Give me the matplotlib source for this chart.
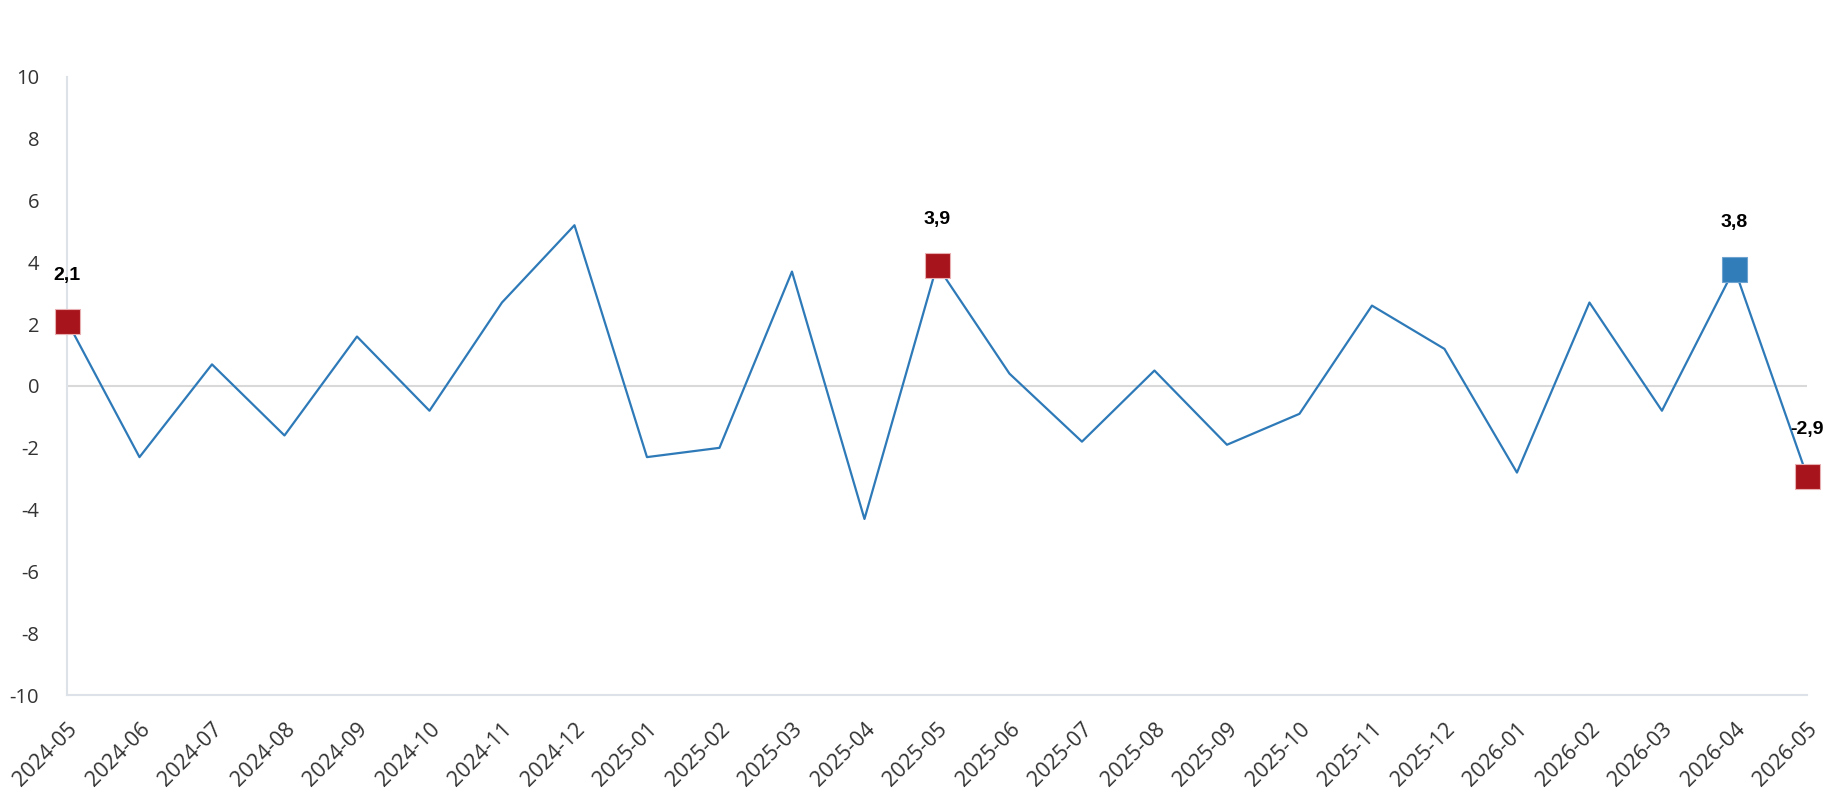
import matplotlib
matplotlib.use("Agg")
import matplotlib.pyplot as plt

# monthly values
months = ["2024-05", "2024-06", "2024-07", "2024-08", "2024-09", "2024-10",
          "2024-11", "2024-12", "2025-01", "2025-02", "2025-03", "2025-04",
          "2025-05", "2025-06", "2025-07", "2025-08", "2025-09", "2025-10",
          "2025-11", "2025-12", "2026-01", "2026-02", "2026-03", "2026-04",
          "2026-05"]
values = [2.1, -2.3, 0.7, -1.6, 1.6, -0.8, 2.7, 5.2, -2.3, -2.0, 3.7, -4.3,
          3.9, 0.4, -1.8, 0.5, -1.9, -0.9, 2.6, 1.2, -2.8, 2.7, -0.8, 3.8, -2.9]

# highlighted points (index into months) and their colours
marked = [0, 12, 23, 24]
marked_colors = ["#a8141b", "#a8141b", "#307dba", "#a8141b"]

yticks = [-10, -8, -6, -4, -2, 0, 2, 4, 6, 8, 10]

fig = plt.figure(figsize=(18.3, 8), dpi=100)
ax = fig.add_subplot(111)
fig.subplots_adjust(left=0.0366, right=0.9874, top=0.904, bottom=0.131)

x = list(range(len(months)))
ax.axhline(0, color="#d9d9d9", lw=1.5, zorder=1)
ax.plot(x, values, color="#2e7ab8", lw=1.6, zorder=2, clip_on=False)

for i, c in zip(marked, marked_colors):
    ax.plot(x[i], values[i], marker="s", ms=18, color=c, mec="#e9b0b3" if c != "#307dba" else "#6ea3d0",
            mew=0.8, zorder=3, clip_on=False)
    ax.annotate(f"{values[i]:.1f}".replace(".", ","), (x[i], values[i]),
                xytext=(0, 33), textcoords="offset points", ha="center", va="center",
                fontsize=14, fontweight="bold", family="Liberation Sans", color="black")

ax.set_xlim(0, len(months) - 1)
ax.set_ylim(-10, 10)
ax.set_yticks(yticks)
ax.set_yticklabels([str(t) for t in yticks])
ax.set_xticks(x)
ax.set_xticklabels(months, rotation=45, ha="right", rotation_mode="anchor")

for lab in ax.get_yticklabels():
    lab.set_family("Open Sans")
    lab.set_fontsize(14.5)
    lab.set_color("#333333")
for lab in ax.get_xticklabels():
    lab.set_family("Open Sans")
    lab.set_fontsize(15.5)
    lab.set_color("#333333")

ax.tick_params(axis="both", length=0)
ax.tick_params(axis="y", pad=20)
ax.tick_params(axis="x", pad=17)

for s in ["top", "right"]:
    ax.spines[s].set_visible(False)
ax.spines["left"].set_color("#dde1e8")
ax.spines["bottom"].set_color("#dde1e8")
ax.spines["left"].set_linewidth(1.5)
ax.spines["bottom"].set_linewidth(1.5)

fig.savefig("out.png", dpi=100, facecolor="white")
